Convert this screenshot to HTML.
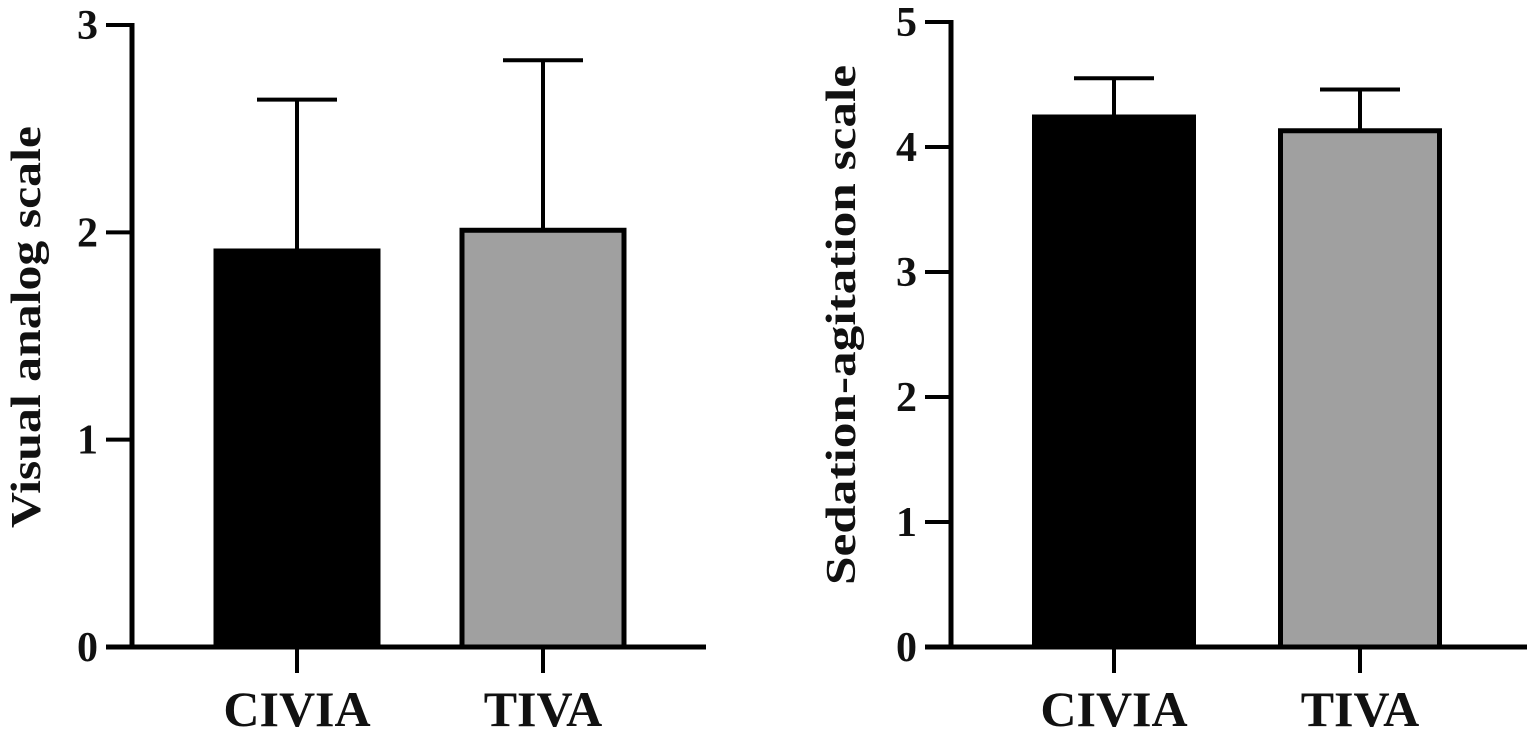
<!DOCTYPE html>
<html><head><meta charset="utf-8"><style>
html,body{margin:0;padding:0;background:#fff;}
svg{display:block;}
text{font-family:"Liberation Serif",serif;font-weight:bold;fill:#111;}
</style></head><body>
<svg id="chart" width="1535" height="732" viewBox="0 0 1535 732"></svg>
<script>
const categories = ["CIVIA", "TIVA"];
const vasMeans = [1.91, 2.01];
const vasErrors = [0.73, 0.82];
const vasTicks = [0, 1, 2, 3];
const sasMeans = [4.24, 4.13];
const sasErrors = [0.31, 0.33];
const sasTicks = [0, 1, 2, 3, 4, 5];
const barFills = ["#000", "#a0a0a0"];

const NS = "http://www.w3.org/2000/svg";
const svg = document.getElementById("chart");
function mk(tag, attrs, parent) {
  const e = document.createElementNS(NS, tag);
  for (const k in attrs) e.setAttribute(k, attrs[k]);
  (parent || svg).appendChild(e);
  return e;
}
function panel(cfg, means, errs, ticks) {
  const g = mk("g", {});
  
  
  const y = v => cfg.y0 - (v - ticks[0]) * (cfg.y0 - cfg.yTop) / (ticks[ticks.length - 1] - ticks[0]);
  means.forEach((m, i) => {
    const cx = cfg.centers[i];
    const top = y(m), etop = y(m + errs[i]);
    const el = mk("line", {x1: cx, x2: cx, y1: top, y2: etop, stroke: "#000", "stroke-width": 4}, g);
    
    
    const cap = mk("line", {x1: cx - 40, x2: cx + 40, y1: etop, y2: etop, stroke: "#000", "stroke-width": 4}, g);
    
    
    const r = mk("rect", {x: cx - cfg.bw / 2 + 2, y: top, width: cfg.bw - 4, height: cfg.y0 - top,
      fill: barFills[i], stroke: "#000", "stroke-width": 5}, g);
    
    
    const t = mk("line", {x1: cx, x2: cx, y1: cfg.y0, y2: cfg.y0 + 26, stroke: "#000", "stroke-width": 4}, g);
    
    
    const lb = mk("text", {x: cx, y: 726, "text-anchor": "middle", "font-size": 50}, g);
    lb.textContent = categories[i];
    
    
  });
  const ya = mk("line", {x1: cfg.ax, x2: cfg.ax, y1: cfg.yTop - 2, y2: cfg.y0 + 2, stroke: "#000", "stroke-width": 5}, g);
  
  
  const xa = mk("line", {x1: cfg.ax - 26, x2: cfg.xEnd, y1: cfg.y0, y2: cfg.y0, stroke: "#000", "stroke-width": 5}, g);
  
  
  ticks.forEach(v => {
    const tk = mk("line", {x1: cfg.ax - 26, x2: cfg.ax, y1: y(v), y2: y(v), stroke: "#000", "stroke-width": 4}, g);
    
    
    const tl = mk("text", {x: cfg.ax - 34, y: y(v) + 14, "text-anchor": "end", "font-size": 42}, g);
    tl.textContent = v;
    
    
  });
  const tt = mk("text", {x: 0, y: 0, "text-anchor": "middle", "font-size": 42,
    transform: `translate(${cfg.titleX},${cfg.titleY}) rotate(-90)`, textLength: cfg.titleLen, lengthAdjust: "spacingAndGlyphs"}, g);
  tt.textContent = cfg.title;
  
  
}
panel({name: "vas-panel", ax: 132, y0: 647, yTop: 25, xEnd: 706, centers: [297, 543], bw: 166,
  title: "Visual analog scale", titleX: 40, titleY: 327, titleLen: 402}, vasMeans, vasErrors, vasTicks);
panel({name: "sas-panel", ax: 951, y0: 647, yTop: 22, xEnd: 1527, centers: [1114, 1360], bw: 163,
  title: "Sedation-agitation scale", titleX: 855, titleY: 325, titleLen: 520}, sasMeans, sasErrors, sasTicks);
</script>
</body></html>
